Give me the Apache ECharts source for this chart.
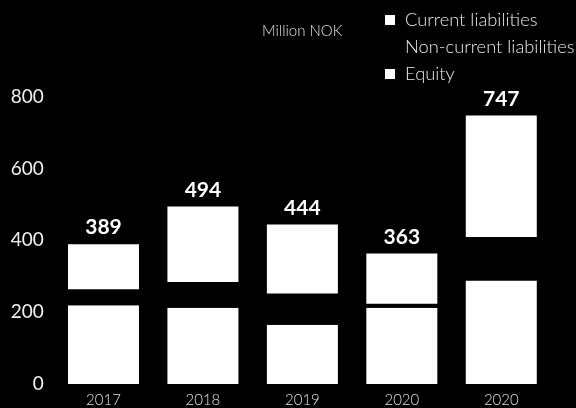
<!DOCTYPE html>
<html>
<head>
<meta charset="utf-8">
<script src="https://cdn.jsdelivr.net/npm/echarts@6/dist/echarts.min.js"></script>
<style>
html,body{margin:0;padding:0;background:#000;}
#c{width:576px;height:408px;}
</style>
</head>
<body>
<div id="c"></div>
<script>
const categories = ['2017', '2018', '2019', '2020', '2020'];
const equity = [219, 212, 165, 212, 288];
const nonCurrentLiabilities = [45, 72, 87, 11, 121];
const currentLiabilities = [125, 210, 192, 140, 338];
const totals = [389, 494, 444, 363, 747];
const yTicks = [0, 200, 400, 600, 800];

const chart = echarts.init(document.getElementById('c'));
const font = 'Lato, "Noto Sans", sans-serif';
chart.setOption({
  backgroundColor: '#000',
  animation: false,
  textStyle: { fontFamily: font },
  graphic: [{
    type: 'text',
    left: 262,
    top: 24,
    style: { text: 'Million NOK', fill: '#e0e0e0', font: '300 15px ' + font }
  }],
  legend: {
    orient: 'vertical',
    left: 380,
    top: 5,
    padding: 5,
    itemWidth: 10,
    itemHeight: 10,
    itemGap: 7,
    icon: 'rect',
    selectedMode: false,
    data: ['Current liabilities', 'Non-current liabilities', 'Equity'],
    textStyle: { color: '#e8e8e8', fontSize: 18.3, fontWeight: 300, fontFamily: font, lineHeight: 20, padding: [0, 0, 0, 5] }
  },
  grid: { left: 53.75, right: 25, top: 96.5, bottom: 23.5, containLabel: false },
  xAxis: {
    type: 'category',
    data: categories,
    axisLine: { show: false },
    axisTick: { show: false },
    axisLabel: { color: '#e0e0e0', fontSize: 15, fontWeight: 300, margin: 9, fontFamily: font, interval: 0 }
  },
  yAxis: {
    type: 'value',
    min: yTicks[0],
    max: yTicks[yTicks.length - 1],
    interval: 200,
    splitLine: { show: false },
    axisLine: { show: false },
    axisTick: { show: false },
    axisLabel: { color: '#f0f0f0', fontSize: 19, margin: 10, fontFamily: font }
  },
  series: [
    {
      name: 'Equity', type: 'bar', stack: 'total', barWidth: 71,
      data: equity, itemStyle: { color: '#fff' }
    },
    {
      name: 'Non-current liabilities', type: 'bar', stack: 'total', barWidth: 71,
      data: nonCurrentLiabilities, itemStyle: { color: '#000' }
    },
    {
      name: 'Current liabilities', type: 'bar', stack: 'total', barWidth: 71,
      data: currentLiabilities, itemStyle: { color: '#fff' },
      label: {
        show: true, position: 'top', distance: 6,
        color: '#fff', fontSize: 21, fontWeight: 'bold', fontFamily: font,
        formatter: p => String(totals[p.dataIndex])
      }
    }
  ]
});
</script>
</body>
</html>
